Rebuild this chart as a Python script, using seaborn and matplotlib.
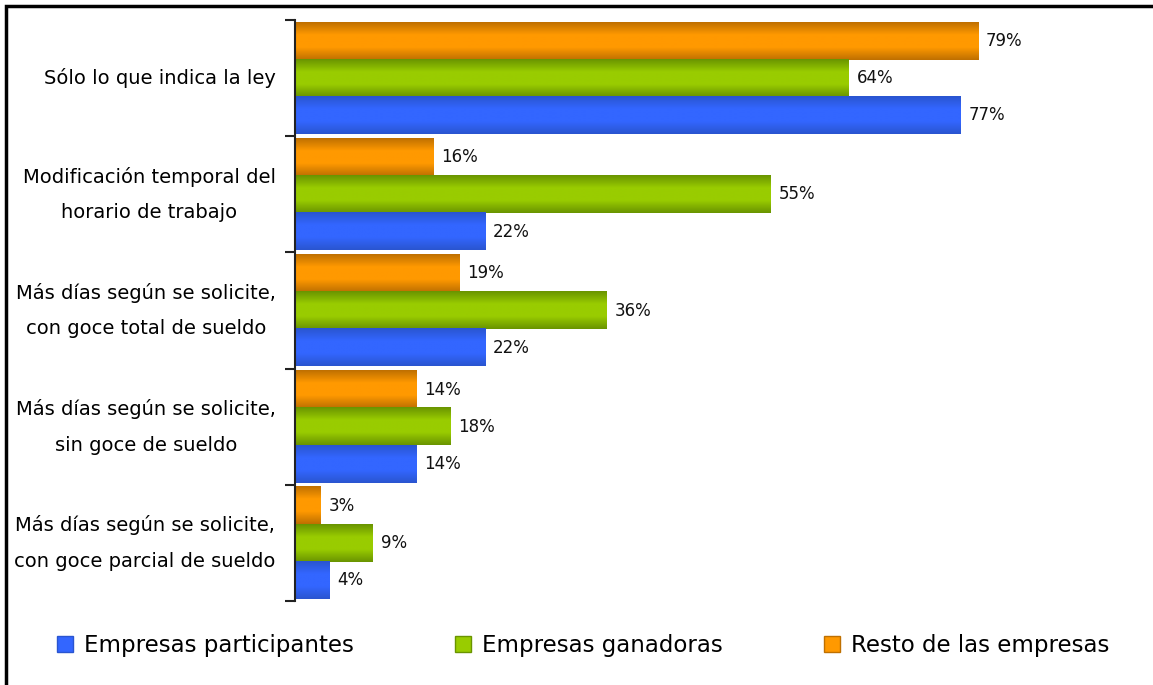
import numpy as np
import pandas as pd
import matplotlib
matplotlib.use("Agg")
import matplotlib.pyplot as plt
import seaborn as sns
from matplotlib.colors import LinearSegmentedColormap, to_rgb
from matplotlib.patches import Rectangle
from matplotlib.lines import Line2D

categories = [
    "Sólo lo que indica la ley",
    "Modificación temporal del\nhorario de trabajo",
    "Más días según se solicite,\ncon goce total de sueldo",
    "Más días según se solicite,\nsin goce de sueldo",
    "Más días según se solicite,\ncon goce parcial de sueldo",
]
series = ["Resto de las empresas", "Empresas ganadoras", "Empresas participantes"]
resto = [79, 16, 19, 14, 3]
ganadoras = [64, 55, 36, 18, 9]
participantes = [77, 22, 22, 14, 4]

legend_order = ["Empresas participantes", "Empresas ganadoras", "Resto de las empresas"]
center_colors = {"Resto de las empresas": "#FF9900",
                 "Empresas ganadoras": "#99CC00",
                 "Empresas participantes": "#3366FF"}
edge_colors = {"Resto de las empresas": "#BF7000",
               "Empresas ganadoras": "#6A9400",
               "Empresas participantes": "#2A55D0"}

df = pd.DataFrame({
    "categoria": categories * 3,
    "serie": [series[0]] * 5 + [series[1]] * 5 + [series[2]] * 5,
    "valor": resto + ganadoras + participantes,
})

plt.rcParams['font.family'] = ['DejaVu Sans']
fig = plt.figure(figsize=(11.53, 6.85), dpi=100)
ax = fig.add_axes([0.256, 0.1226, 0.744, 0.848])

sns.barplot(data=df, y="categoria", x="valor", hue="serie", hue_order=series,
            order=categories, palette=center_colors, orient="h", width=0.96,
            errorbar=None, ax=ax, legend=False, linewidth=0)

ax.set_xlim(0, 99.2)
ax.set_ylim(4.5, -0.5)

# gradient fill for each bar
for patch, (_, row) in zip(ax.patches, df.iterrows()):
    s = row["serie"]
    cmap = LinearSegmentedColormap.from_list(
        "g", [to_rgb(edge_colors[s]), to_rgb(center_colors[s]), to_rgb(center_colors[s]), to_rgb(edge_colors[s])])
    x0, y0 = patch.get_x(), patch.get_y()
    w, h = patch.get_width(), patch.get_height()
    grad = np.linspace(0, 1, 64).reshape(-1, 1)
    ax.imshow(grad, cmap=cmap, aspect="auto", extent=(x0, x0 + w, y0 + h, y0),
              origin="upper", zorder=patch.get_zorder() + 0.1, interpolation="bilinear")
    ax.text(x0 + w + 0.9, y0 + h / 2, f"{int(row['valor'])}%", va="center", ha="left",
            fontsize=12, color="#111111")

ax.set_xlim(0, 99.2)
ax.set_ylim(4.5, -0.5)
ax.set_xlabel("")
ax.set_ylabel("")
ax.set_xticks([])
for sp in ["top", "right", "bottom"]:
    ax.spines[sp].set_visible(False)
ax.spines["left"].set_linewidth(1.5)
ax.spines["left"].set_color("#222222")

ax.set_yticks(range(len(categories)))
ax.set_yticklabels(categories, fontsize=14, ha="right", va="center",
                   multialignment="center", linespacing=2.1)
ax.tick_params(axis="y", which="major", length=0, pad=14)
ax.set_yticks(np.arange(-0.5, len(categories)), minor=True)
ax.tick_params(axis="y", which="minor", length=7, width=1.5, color="#222222")

handles = [Line2D([0], [0], marker="s", linestyle="none", markersize=12,
                  markerfacecolor=center_colors[s], markeredgecolor=edge_colors[s])
           for s in legend_order]
fig.legend(handles, legend_order, loc="center left", bbox_to_anchor=(0.031, 0.058),
           ncol=3, frameon=False, fontsize=16.5, columnspacing=4.4, handletextpad=0.45,
           handlelength=0.75)

# outer frame (only left and top visible)
fig.add_artist(Rectangle((6 / 1153, -0.1), 1.2, 1 - 6 / 685 + 0.1, transform=fig.transFigure,
                         fill=False, edgecolor="black", linewidth=2.5))

fig.savefig("out.png", dpi=100)
